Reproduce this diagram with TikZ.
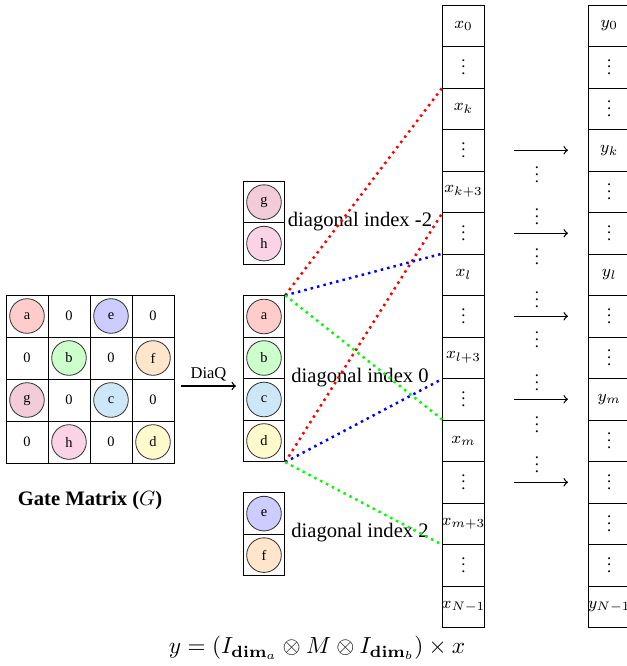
\RequirePackage{fix-cm}
\documentclass[tikz,border=0pt]{standalone}
\usepackage[no-math]{fontspec}
\setmainfont{Liberation Serif}
\definecolor{ca}{HTML}{FFCCCC}
\definecolor{cb}{HTML}{CCFFCC}
\definecolor{cc}{HTML}{CCE8F8}
\definecolor{cd}{HTML}{FFFACC}
\definecolor{ce}{HTML}{CCCCFF}
\definecolor{cf}{HTML}{FFE5CC}
\definecolor{cg}{HTML}{F2CCD8}
\definecolor{ch}{HTML}{FAD4E6}
\newcommand\myvd{\vbox{\baselineskip3.3pt\lineskiplimit0pt\hbox{.}\hbox{.}\hbox{.}}}
\begin{document}
\begin{tikzpicture}[x=0.4854pt,y=-0.4854pt,
  mcell/.style={draw, minimum size=20.39pt, inner sep=0pt, font=\scriptsize},
  vcell/.style={draw, minimum width=20.14pt, minimum height=20.14pt, inner sep=0pt},
  vtext/.style={font=\footnotesize, inner sep=0pt},
  ball/.style={circle, draw=black!80, minimum size=16.8pt, inner sep=0pt, font=\scriptsize},
  diag/.style={very thick, dotted, line cap=butt},
  dlabel/.style={font=\normalsize, inner sep=1pt},
  arr/.style={->, semithick},
  vdot/.style={font=\footnotesize, inner sep=0pt}]
\clip (0,0) rectangle (627,666);
% gate matrix
\foreach \r in {0,1,2,3}{
  \foreach \c in {0,1,2,3}{
    \node[mcell] (m\r\c) at ({27+42*\c},{316+42*\r}) {};
  }
}
\foreach \r/\c/\t in {0/0/a,0/2/e,1/1/b,1/3/f,2/0/g,2/2/c,3/1/h,3/3/d}
  \node[ball, fill=c\t] (mb\t) at (m\r\c) {\t};
\foreach \r/\c in {0/1,0/3,1/0,1/2,2/1,2/3,3/0,3/2}
  \node[font=\scriptsize] (z\r\c) at (m\r\c) {0};
\node[font=\bfseries] (gm) at (90,501) {Gate Matrix ($G$)};
% DiaQ arrow
\coordinate (qa) at (181,386);
\coordinate (qb) at (236,386);
\draw[arr] (qa) -- node[above, font=\footnotesize, inner sep=2pt] (dq) {DiaQ} (qb);
% diagonals
\foreach \t/\y in {g/202.1,h/243.6,a/316.5,b/358,c/399.5,d/441,e/513.6,f/555.1}{
  \node[vcell] (d\t) at (264,\y) {};
  \node[ball, fill=c\t] (db\t) at (d\t) {\t};
}
\node[dlabel] (l1) at (360,222) {diagonal index -2};
\node[dlabel] (l2) at (360,378) {diagonal index 0};
\node[dlabel] (l3) at (360,533) {diagonal index 2};
% x column
\foreach \i/\t in {0/{$x_0$},1/{\myvd},2/{$x_k$},3/{\myvd},4/{$x_{k+3}$},5/{\myvd},6/{$x_l$},7/{\myvd},8/{$x_{l+3}$},9/{\myvd},10/{$x_m$},11/{\myvd},12/{$x_{m+3}$},13/{\myvd},14/{$x_{N-1}$}}{
  \node[vcell] (x\i) at (463.5,{25.75+41.5*\i}) {};
  \node[vtext] (xt\i) at (x\i) {\t};
}
% y column
\foreach \i/\t in {0/{$y_0$},1/{\myvd},2/{\myvd},3/{$y_k$},4/{\myvd},5/{\myvd},6/{$y_l$},7/{\myvd},8/{\myvd},9/{$y_m$},10/{\myvd},11/{\myvd},12/{\myvd},13/{\myvd},14/{$y_{N-1}$}}{
  \node[vcell] (y\i) at (609.3,{25.75+41.5*\i}) {};
  \node[vtext] (yt\i) at (y\i) {\t};
}
% arrows
\foreach \i in {3,5,7,9,11}{
  \coordinate (al\i) at (513.5,{25.75+41.5*\i});
  \coordinate (ar\i) at (568,{25.75+41.5*\i});
  \draw[arr] (al\i) -- (ar\i);
}
\foreach \y [count=\k] in {175,217,257,300,340,383,425,465}
  \node[vdot] (v\k) at (537,\y) {\myvd};
% dotted connectors
\draw[diag, red] (da.north east) -- (x2.north west);
\draw[diag, red] (dd.south east) -- (x4.south west);
\draw[diag, blue] (da.north east) -- (x6.north west);
\draw[diag, blue] (dd.south east) -- (x8.south west);
\draw[diag, green] (da.north east) -- (x10.north west);
\draw[diag, green] (dd.south east) -- (x12.south west);
% equation
\node[font=\fontsize{11.3}{13.5}\selectfont] (eq) at (317,648) {$y=(I_{\mathbf{dim}_a}\otimes M\otimes I_{\mathbf{dim}_b})\times x$};
\end{tikzpicture}
\end{document}
